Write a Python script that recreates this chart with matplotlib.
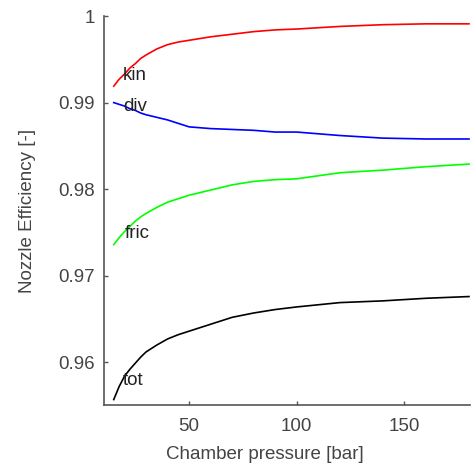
import matplotlib
matplotlib.use("Agg")
import matplotlib.pyplot as plt

pressure = [15, 17.5, 20, 22.5, 25, 27.5, 30, 35, 40, 45, 50, 60, 70, 80,
            90, 100, 120, 140, 160, 180]
eta_kin = [0.9919, 0.9927, 0.9933, 0.9940, 0.9945, 0.9951, 0.9955, 0.9962,
           0.9967, 0.9970, 0.9972, 0.9976, 0.9979, 0.9982, 0.9984, 0.9985,
           0.9988, 0.9990, 0.9991, 0.9991]
eta_div = [0.9900, 0.9898, 0.9896, 0.9893, 0.9891, 0.9888, 0.9886, 0.9883,
           0.9880, 0.9876, 0.9872, 0.9870, 0.9869, 0.9868, 0.9866, 0.9866,
           0.9862, 0.9859, 0.9858, 0.9858]
eta_fric = [0.9736, 0.9744, 0.9751, 0.9757, 0.9763, 0.9768, 0.9772, 0.9779,
            0.9785, 0.9789, 0.9793, 0.9799, 0.9805, 0.9809, 0.9811, 0.9812,
            0.9819, 0.9822, 0.9826, 0.9829]
eta_tot = [0.9557, 0.9572, 0.9584, 0.9592, 0.9599, 0.9606, 0.9612, 0.9620,
           0.9627, 0.9632, 0.9636, 0.9644, 0.9652, 0.9657, 0.9661, 0.9664,
           0.9669, 0.9671, 0.9674, 0.9676]

series = [("kin", eta_kin, "#ff0000", (19.3, 0.9931)),
          ("div", eta_div, "#0000ff", (19.3, 0.9896)),
          ("fric", eta_fric, "#00ff00", (20.0, 0.9749)),
          ("tot", eta_tot, "#000000", (19.0, 0.9579))]

xticks = [50, 100, 150]
yticks = [0.96, 0.97, 0.98, 0.99, 1.0]
yticklabels = ["0.96", "0.97", "0.98", "0.99", "1"]

plt.rcParams['font.family'] = ['Liberation Sans', 'DejaVu Sans']
fs = 13.5
fig = plt.figure(figsize=(4.73, 4.72), dpi=100)
ax = fig.add_axes([0.2209, 0.1419, 0.7738, 0.8241])

for name, vals, col, pos in series:
    ax.plot(pressure, vals, color=col, lw=1.2)
    ax.text(pos[0], pos[1], name, fontsize=fs, color="#222222", ha="left", va="center")

ax.set_xlim(10.7, 180.7)
ax.set_ylim(0.95507, 1.0)
ax.set_xticks(xticks)
ax.set_yticks(yticks)
ax.set_yticklabels(yticklabels)

for s in ["top", "right"]:
    ax.spines[s].set_visible(False)
for s in ["left", "bottom"]:
    ax.spines[s].set_color("#555555")
    ax.spines[s].set_linewidth(1.2)

ax.tick_params(direction="in", length=3, width=1, colors="#555555",
               labelcolor="#444444", labelsize=fs)
ax.tick_params(axis="y", pad=7)
ax.tick_params(axis="x", pad=9)

ax.set_xlabel("Chamber pressure [bar]", fontsize=fs, color="#444444")
ax.set_ylabel("Nozzle Efficiency [-]", fontsize=fs, color="#444444", va="center")
ax.xaxis.set_label_coords(0.437, -0.105)
ax.yaxis.set_label_coords(-0.209, 0.5)

fig.savefig("out.png", dpi=100)
